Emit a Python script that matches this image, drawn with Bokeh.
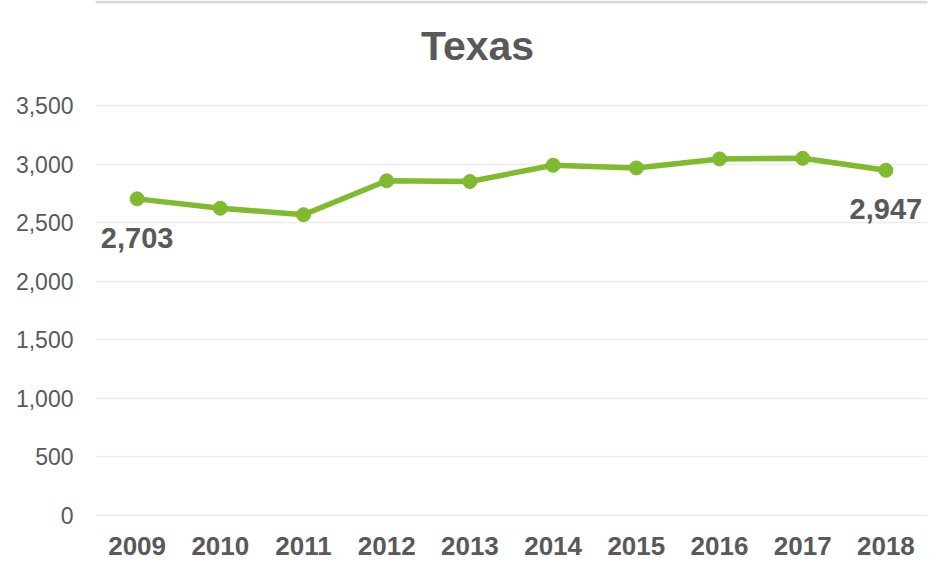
from bokeh.plotting import figure
from bokeh.models import ColumnDataSource, NumeralTickFormatter, FixedTicker, Span, BoxAnnotation, Label, Range1d
from bokeh.embed import file_html
from bokeh.resources import INLINE
from bokeh.core.properties import value

years = ["2009", "2010", "2011", "2012", "2013", "2014", "2015", "2016", "2017", "2018"]
counts = [2703, 2623, 2568, 2857, 2851, 2990, 2967, 3044, 3049, 2947]
label_years = ["2009", "2018"]
label_counts = [2703, 2947]
label_texts = ["2,703", "2,947"]
y_ticks = [0, 500, 1000, 1500, 2000, 2500, 3000, 3500]
title_text = "Texas"

GREEN = "#7fba2f"
GREY = "#595959"
FONT = "Liberation Sans"
W, H = 935, 561
FRAME_BOTTOM = 515   # canvas px of the zero line
TOP_TICK_PX = 105    # canvas px of the 3,500 line
y_end = y_ticks[-1] * FRAME_BOTTOM / (FRAME_BOTTOM - TOP_TICK_PX)

p = figure(x_range=years, y_range=Range1d(0, y_end), width=W, height=H,
           output_backend="svg", toolbar_location=None,
           min_border_left=95, min_border_right=8, min_border_top=0,
           min_border_bottom=H - FRAME_BOTTOM)
p.x_range.range_padding = 0
p.outline_line_color = None
p.background_fill_color = "white"
p.border_fill_color = "white"

p.add_layout(Label(x=477, y=45, x_units="canvas", y_units="canvas", text=title_text,
                   text_align="center", text_baseline="alphabetic", text_font=FONT,
                   text_font_size="41px", text_font_style="bold", text_color=GREY))

p.xgrid.grid_line_color = None
p.ygrid.grid_line_color = "#ececec"
p.ygrid.grid_line_width = 1.5

p.yaxis.ticker = FixedTicker(ticks=y_ticks)
p.yaxis.formatter = NumeralTickFormatter(format="0,0")
for ax in (p.xaxis[0], p.yaxis[0]):
    ax.axis_line_color = None
    ax.major_tick_line_color = None
    ax.minor_tick_line_color = None
    ax.major_label_text_font = FONT
    ax.major_label_text_color = GREY
p.yaxis.major_label_text_font_size = "23px"
p.yaxis.major_label_standoff = 16
p.xaxis.major_label_text_font_size = "26px"
p.xaxis.major_label_text_font_style = "bold"
p.xaxis.major_label_standoff = 15

p.add_layout(Span(location=0, dimension="width", line_color="#d9d9d9", line_width=1.5))
p.add_layout(BoxAnnotation(left=0, right=W, top=0, bottom=3,
                           left_units="canvas", right_units="canvas",
                           top_units="canvas", bottom_units="canvas",
                           fill_color="#d9d9d9", fill_alpha=1, line_color=None))

src = ColumnDataSource(dict(x=years, y=counts))
p.line("x", "y", source=src, line_color=GREEN, line_width=5.5)
p.scatter("x", "y", source=src, size=14, fill_color=GREEN, line_color=GREEN)

lsrc = ColumnDataSource(dict(x=label_years, y=label_counts, t=label_texts))
p.text("x", "y", text="t", source=lsrc, text_align="center", text_baseline="top",
       y_offset=29, text_font=value(FONT), text_font_size="29px",
       text_font_style="bold", text_color=GREY)

open("out.html", "w").write(file_html(p, INLINE))
